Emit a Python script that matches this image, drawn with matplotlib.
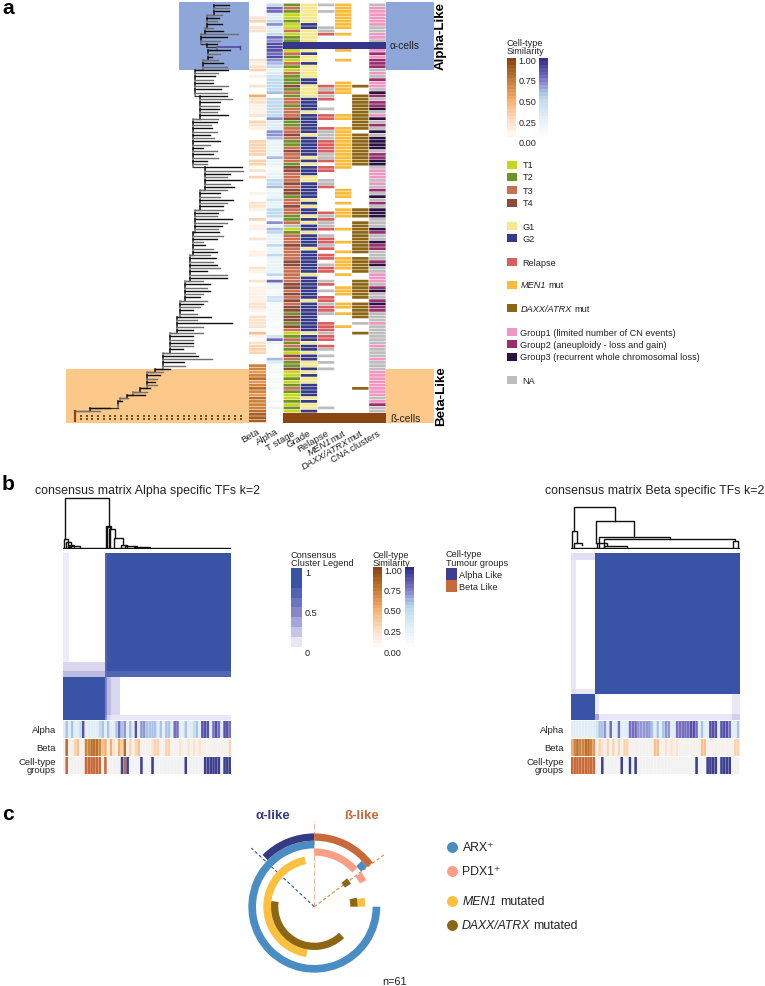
import numpy as np
import matplotlib
matplotlib.use("Agg")
import matplotlib.pyplot as plt
from matplotlib.colors import LinearSegmentedColormap
from matplotlib.patches import Rectangle

plt.rcParams['font.family'] = ['Liberation Sans', 'DejaVu Sans']

W, H = 765, 987

# ---------- panel a: annotation columns, one char per tumour row ----------
beta_col = ("0000230220" "0000000212" "3010020052" "2111203210" "0033333033" "0203000010" "0221003011"
            "0020001100" "0210020111" "1122102222" "0410233300" "0776786787" "687778" "999")
alpha_col = ("5883357335" "8799989765" "2345555605" "5555573337" "7622222622" "1122556122" "4225551726"
             "5222522522" "2225182211" "4411111101" "0048200006" "3111011010" "001020" "000")
tstage_col = ("2321121131" "22AA132132" "1322242323" "3233342233" "4322343332" "4433343442" "33433223N1"
              "2333433334" "4333334434" "3434424424" "3123232143" "2241121232" "112121" "BBB")
grade_col = ("YYYYYYDDYY" "YYAAYDYYDY" "YYYDDYYYYD" "DDDYDDDDDD" "YDDDDDDYDY" "DDDYYDDDDD" "YDYDDYDYDD"
             "YDDDDYDDDD" "DDDYDDDDDD" "DYDDDDDDDD" "DYDDYDDYDD" "YYDYDYYDDD" "DYDYYD" "BBB")
relapse_col = ("N0N0000NNR" "00AA000000" "00000RNRNR" "00N0RR00RN" "NNRRRRNNR0" "RR00NNR000" "0000RNRNNR"
               "0NRRNR0RR0" "NRR00NR0N0" "RRNRRN00RR" "RNRR0RN0N0" "N0N0000000" "0000N0" "BBB")
men1_col = ("MMMMMMMM0M" "00AAM00M00" "0000MMMM00" "0000MM00MM" "MMMMMMMMMM" "M000000MMM" "0M0MMM000M"
            "000M00M0MM" "MM0M000MMM" "00MM0M000M" "0000000000" "0000000000" "000000" "BBB")
daxx_col = ("0000000000" "00AA000000" "00000D00DD" "DDDDDDDDD0" "DDDDDDDDDD" "0000000000" "000DDD0DDD"
            "DDDDDDD0DD" "DDD00DDDDD" "D0DDDDD0N0" "0D00000000" "00000000D0" "000000" "BBB")
cna_col = ("NGGGGGGNNG" "GNAAGHGHHH" "NGNHGGNKHN" "HHKNGKNHNK" "NKKKKNHHKK" "NGGGNGNHNK" "NHNKKKNNNK"
           "HNNKHHNNNH" "KNNGGGNHKN" "NHKHHNNNGN" "NNNNNGNNNG" "NNNGGGGGGG" "GNGHNN" "BBB")
column_labels = ["Beta", "Alpha", "T stage", "Grade", "Relapse", "MEN1", "DAXX/ATRX", "CNA clusters"]

# tree: tip and branching depth of every leaf row
tree_tip = [229,229,229,222,219,217,222,213,223,238, 227,220,217,240,230,220,212,218,223,227,
            228,218,215,213,213,228,221,227,227,232, 220,219,219,217,228,218,217,211,212,217,
            210,214,220,210,203,217,213,218,207,207, 242,243,230,227,242,230,234,227,220,220,
            233,227,223,223,218,217,232,227,222,218, 219,223,217,203,205,213,217,210,216,213,
            217,220,207,227,227,203,210,207,210,203, 200,207,203,200,193,197,211,197,232,203,
            193,203,193,193,193,193,183,195,198,212, 184,185,170,163,160,157,155,157,150,147,145,128,122,118,110,100]
tree_node = [214,214,214,207,207,207,207,205,205,201, 201,201,207,217,208,208,208,203,203,203,
             195,195,195,195,195,195,195,195,200,200, 200,200,200,200,200,193,193,193,193,193,
             193,193,193,193,193,193,193,193,193,193, 205,205,205,205,205,205,205,200,200,200,
             200,200,200,195,195,195,195,195,195,195, 193,193,193,193,193,193,193,190,190,190,
             190,190,190,190,190,185,185,185,185,185, 185,180,180,180,180,180,177,177,177,177,
             177,170,170,170,170,170,170,163,163,163, 163,163,155,147,147,147,147,147,140,133,127,120,118,118,90,75]

# ---------- panel b: consensus blocks (edges in sample-fraction units) ----------
left_x_edges = [0, .036, .254, .266, .286, .341, 1]
left_y_edges = [0, .653, .707, .747, .972, 1]
left_blocks = [[.08, 0, .85, .97, 1, 1],
               [.17, .17, .85, 1, 1, 1],
               [.30, .30, .80, .85, .85, .85],
               [1, 1, .60, .30, .17, 0],
               [1, 1, .50, .17, .10, .10]]
right_x_edges = [0, .034, .146, .166, .955, 1]
right_y_edges = [0, .044, .82, .85, .97, 1]
right_blocks = [[.14, .14, 1, 1, 1],
                [.10, 0, 1, 1, 1],
                [.14, .10, 1, 1, 1],
                [1, 1, .08, 0, .10],
                [1, 1, .40, .10, .20]]

left_alpha = "2525224822" "2224525225" "7562528266" "5555252552" "7722522452" "88827872887"
left_beta = "0811341177" "8887451521" "5381303411" "1123311330" "1121121212" "11010100113"
left_group = "0B000000BB" "BBBB0B0000" "0ABA0000A0" "00A0000000" "0000A00000" "0AAAAAA0AAA"
right_alpha = "2222222223" "5562722722" "2777666665" "2525662277" "7778872522" "88828887225"
right_beta = "5787788761" "3213131313" "3100110011" "4411212121" "1111111441" "10101100033"
right_group = "BBBBBBBBB0" "0A000000A0" "0A0A000000" "0000000000" "00000A000A" "AAA0AAAA000"

# dendrogram merges: x-left, x-right, height, left foot, right foot
left_dendro = [(195, 325, 88, 210, 170), (190, 203, 210, 238, 238), (196, 212, 220, 238, 238),
               (205, 220, 228, 238, 238), (210, 240, 232, 238, 238), (318, 332, 170, 238, 180),
               (320, 328, 175, 238, 238), (326, 345, 180, 238, 207), (340, 368, 207, 238, 228),
               (362, 380, 228, 238, 238), (375, 410, 232, 238, 238), (400, 450, 235, 238, 238),
               (187, 694, 238, 238, 238)]
right_dendro = [(522, 645, 115, 185, 155), (516, 530, 185, 236, 222), (522, 545, 222, 236, 228),
                (588, 702, 155, 222, 205), (595, 810, 205, 236, 210), (610, 1005, 210, 236, 215),
                (998, 1012, 215, 236, 236), (590, 620, 222, 236, 228), (612, 680, 230, 236, 236),
                (511, 1018, 236, 236, 236)]

# ---------- panel c: arcs in degrees clockwise from north ----------
arx_arcs = [(90, 360), (46, 53)]
pdx1_arcs = [(0, 48), (54, 63)]
men1_arcs = [(189, 349), (80, 90)]
daxx_arcs = [(136.5, 277.5), (49, 58), (78, 90)]
alpha_arc = (315, 360)
beta_arc = (0, 53)

# ---------- colours ----------
T_COL = {'1': '#C6D71C', '2': '#6E9427', '3': '#C96F52', '4': '#8B4A3A', 'N': '#BDBDBD'}
G_COL = {'Y': '#F5E88F', 'D': '#353B88'}
NAVY, BROWN = '#35358A', '#8B4513'
CAT = dict(T_COL); CAT.update(G_COL)
CAT2 = {'R': '#D95F5F', 'N': '#BDBDBD', 'M': '#F9BB3A', 'D': '#8D6614',
        'G': '#EF96C1', 'H': '#982E6E', 'K': '#2B1143'}
brown_cmap = LinearSegmentedColormap.from_list('b', [(0, '#FFFFFF'), (.25, '#FDDCC0'), (.5, '#F7AD6A'),
                                                     (.75, '#C47A32'), (1, '#8B4513')])
alpha_cmap = LinearSegmentedColormap.from_list('a', [(0, '#FFFFFF'), (.25, '#E4F1F7'), (.5, '#BEDCEE'),
                                                     (.6, '#A6BDE3'), (.75, '#7E78C7'), (1, '#332E8F')])
cons_cmap = LinearSegmentedColormap.from_list('c', [(0, '#FFFFFF'), (.1, '#E9E7F6'), (.5, '#8E8FCE'),
                                                    (1, '#3953A6')])

fig = plt.figure(figsize=(W / 100, H / 100), dpi=100, facecolor='white')


def ax_px(x0, y0, x1, y1, **kw):
    a = fig.add_axes([x0 / W, 1 - y1 / H, (x1 - x0) / W, (y1 - y0) / H], **kw)
    a.patch.set_alpha(0)
    return a


def unsnap(container):
    for p in container:
        p.set_snap(False)


ov = ax_px(0, 0, W, H)
ov.set_xlim(0, W); ov.set_ylim(H, 0); ov.axis('off')
ov.set_zorder(0)
for (x0, y0, x1, y1, c) in [(179, 3, 249, 71, '#8FA6D9'), (386, 3, 434, 71, '#8FA6D9'),
                            (66, 370, 249, 423.5, '#FDC98A'), (386, 370, 434, 423.5, '#FDC98A')]:
    ov.add_patch(Rectangle((x0, y0), x1 - x0, y1 - y0, color=c, lw=0))

txt = fig.add_axes([0, 0, 1, 1])
txt.set_xlim(0, W); txt.set_ylim(H, 0); txt.axis('off'); txt.patch.set_alpha(0)
txt.set_zorder(10)
renderer = fig.canvas.get_renderer()


def T(x, y, s, size=6.6, **kw):
    kw.setdefault('va', 'center')
    kw.setdefault('color', '#222222')
    return txt.text(x, y, s, fontsize=size, **kw)


def italic_plain(x, y, it, rest, size=6.6):
    t = T(x, y, it, size, style='italic')
    e = t.get_window_extent(renderer)
    T(x + e.width + size * .42, y, rest, size)


# --- tree
N = len(tree_tip)
tree = ax_px(66, 4.3, 249, 423.5)
tree.set_xlim(66, 249); tree.set_ylim(129, 0); tree.axis('off')
tree.set_zorder(2)
for r in range(N):
    col = '#111111' if r % 2 == 0 else '#707070'
    if r == 13:
        tree.plot([tree_node[r], tree_tip[r]], [r + .5, r + .5], color='#4A3FA0', lw=1.1)
        tree.plot([tree_tip[r]] * 2, [r, r + 1], color='#4A3FA0', lw=1.0)
    else:
        tree.plot([tree_node[r], tree_tip[r]], [r + .5, r + .5], color=col, lw=1.0)
    if r < N - 1:
        tree.plot([tree_node[r]] * 2, [r + .5, r + 1.5], color=col, lw=1.1)
        tree.plot([tree_node[r], tree_node[r + 1]], [r + 1.5, r + 1.5], color='#333333', lw=0.9)
tree.plot([75, 75], [125.5, 128.5], color=BROWN, lw=1.6)
for yy in (127, 128):
    tree.scatter(np.arange(81, 246, 5.7), [yy] * len(np.arange(81, 246, 5.7)), marker='s', s=1.6,
                 color='#7A4A28', lw=0)

# --- annotation heatmap
hm = ax_px(249, 4.3, 386, 423.5, facecolor='white')
hm.patch.set_alpha(1)
hm.set_xlim(0, 8); hm.set_ylim(129, 0); hm.axis('off')
hm.set_zorder(1)
rows = np.arange(len(beta_col)) + .5
unsnap(hm.barh(rows, 1, left=0, height=.84,
        color=[brown_cmap(int(c) / 10) if c != '0' else (1, 1, 1, 0) for c in beta_col[:-3]] + [brown_cmap(.88)] * 3))
unsnap(hm.barh(rows, .94, left=1.03, height=.84,
        color=[alpha_cmap(int(c) / 10) if c != '0' else (1, 1, 1, 0) for c in alpha_col]))
for i, (col, pal) in enumerate([(tstage_col, CAT), (grade_col, CAT), (relapse_col, CAT2), (men1_col, CAT2),
                                (daxx_col, CAT2), (cna_col, CAT2)]):
    cols = [pal.get(c, (1, 1, 1, 0)) if c not in 'AB' else (1, 1, 1, 0) for c in col]
    unsnap(hm.barh(rows, .96, left=2 + i + .02, height=.84, color=cols))
hm.add_patch(Rectangle((2, 12), 6, 2, color=NAVY, lw=0))
hm.add_patch(Rectangle((2, 126), 6, 3, color=BROWN, lw=0))

T(390, 46, "α-cells", 7.4)
T(390, 419, "ß-cells", 7.4)
T(441, 36, "Alpha-Like", 9.6, weight='bold', rotation=90, ha='center', color='black')
T(441, 396, "Beta-Like", 9.6, weight='bold', rotation=90, ha='center', color='black')
T(2, 8, "a", 15, weight='bold', color='black')
T(2, 484, "b", 15, weight='bold', color='black')
T(2, 814, "c", 15, weight='bold', color='black')

ends = [(257, 427), (275, 427), (292, 429), (308, 429), (326, 429), (343, 429), (360, 429), (377, 429)]
ang = np.deg2rad(30)
for lab, (x, y) in zip(column_labels, ends):
    if lab in ("MEN1", "DAXX/ATRX"):
        t = T(x, y, "mut", 6.8, rotation=30, ha='right', va='top', rotation_mode='anchor')
        t2 = T(0, 0, "mut", 6.8); w = t2.get_window_extent(renderer).width; t2.remove()
        T(x - w * np.cos(ang), y + w * np.sin(ang), lab, 6.8, style='italic', rotation=30, ha='right', va='top',
          rotation_mode='anchor')
    else:
        T(x, y, lab, 6.8, rotation=30, ha='right', va='top', rotation_mode='anchor')


# --- colour bars
def cbar(x0, y0, x1, y1, cmap, levels=24):
    a = ax_px(x0, y0, x1, y1)
    a.imshow(np.linspace(1, 0, levels)[:, None], cmap=cmap, vmin=0, vmax=1, aspect='auto')
    a.axis('off')
    return a


def sim_legend(x, ytitle, bar_top, bar_bot, alpha_x, ylabels):
    T(x, ytitle, "Cell-type", 6.6)
    T(x, ytitle + 8.5, "Similarity", 6.6)
    cbar(x, bar_top, x + 9, bar_bot, brown_cmap)
    cbar(alpha_x, bar_top, alpha_x + 9, bar_bot, alpha_cmap)
    for lab, yy in zip(["1.00", "0.75", "0.50", "0.25", "0.00"], ylabels):
        T(x + 11.5, yy, lab, 6.6)


sim_legend(507, 43.5, 59, 141, 539, [62, 82, 102.5, 123.5, 143])
sim_legend(372.5, 555, 568, 651, 405, [571, 591.5, 612, 632.5, 653])

legend_items = [(166, "T1", '#C6D71C'), (178, "T2", '#6E9427'), (191, "T3", '#C96F52'), (204, "T4", '#8B4A3A'),
                (227, "G1", '#F5E88F'), (239, "G2", '#353B88'), (263, "Relapse", '#D95F5F'),
                (286, None, '#F9BB3A'), (309, None, '#8D6614'),
                (333, "Group1 (limited number of CN events)", '#EF96C1'),
                (345, "Group2 (aneuploidy - loss and gain)", '#982E6E'),
                (358, "Group3 (recurrent whole chromosomal loss)", '#2B1143'),
                (381, "NA", '#BDBDBD')]
for y, lab, c in legend_items:
    txt.add_patch(Rectangle((507.5, y - 4.5), 9.5, 8.5, color=c, lw=0))
    if lab:
        T(522.5 if len(lab) < 8 else 520.5, y, lab)
italic_plain(520.5, 286, "MEN1", "mut")
italic_plain(520.5, 309, "DAXX/ATRX", "mut")

# --- consensus legend + tumour groups
T(291, 555, "Consensus", 6.6)
T(291, 563.5, "Cluster Legend", 6.6)
a = ax_px(291, 569, 302, 648)
a.imshow(np.array([1, 1, .85, .7, .55, .4, .25, .1])[:, None], cmap=cons_cmap, vmin=0, vmax=1, aspect='auto')
a.axis('off')
T(305, 574, "1"); T(305, 613.5, "0.5"); T(305, 653, "0")
T(446, 554.5, "Cell-type", 6.6)
T(446, 563, "Tumour groups", 6.6)
txt.add_patch(Rectangle((446, 569), 11.5, 11.5, color='#3D3F8F', lw=0))
txt.add_patch(Rectangle((446, 581), 11.5, 11.5, color='#C8693A', lw=0))
T(459, 575.5, "Alpha Like"); T(459, 587, "Beta Like")


# --- consensus panels
def strip(x0, y0, x1, y1, s, kind):
    a = ax_px(x0, y0, x1, y1)
    if kind == 'alpha':
        cols = [alpha_cmap(int(c) / 10 + .08) for c in s]
    elif kind == 'beta':
        cols = [brown_cmap(int(c) / 10) if int(c) > 1 else '#F4F1EE' for c in s]
    else:
        cols = [{'A': '#3D3F8F', 'B': '#C8693A'}.get(c, '#F2F2F2') for c in s]
    unsnap(a.bar(np.arange(len(s)), 1, width=.94, color=cols, lw=0))
    a.set_xlim(-.5, len(s) - .5); a.set_ylim(0, 1); a.axis('off')


def dendro(x0, x1, merges, zx0, zx1, zy0, zy1, y0, y1):
    a = ax_px(x0, y0, x1, y1)
    a.set_xlim(zx0, zx1); a.set_ylim(zy1, zy0); a.axis('off')
    for (l, r, h, fl, fr) in merges:
        a.plot([l, l, r, r], [fl, h, h, fr], color='#111111', lw=1.0, solid_joinstyle='miter')


def consensus(x0, x1, y0, y1, xe, ye, vals, al, be, gr, title, tx):
    a = ax_px(x0, y0, x1, y1)
    a.pcolormesh(xe, ye, np.array(vals), cmap=cons_cmap, vmin=0, vmax=1, rasterized=True)
    a.set_xlim(0, 1); a.set_ylim(1, 0); a.axis('off')
    strip(x0, y1 + 1.5, x1, y1 + 18.5, al, 'alpha')
    strip(x0, y1 + 19.5, x1, y1 + 36.5, be, 'beta')
    strip(x0, y1 + 37.5, x1, y1 + 54.5, gr, 'group')
    T(x0 - 6.5, y1 + 10, "Alpha", 6.8, ha='right')
    T(x0 - 6.5, y1 + 28, "Beta", 6.8, ha='right')
    T(x0 - 6.5, y1 + 42, "Cell-type", 6.8, ha='right')
    T(x0 - 6.5, y1 + 50, "groups", 6.8, ha='right')
    T(tx, 491, title, 8.95)


consensus(62.5, 231.5, 553.5, 720.5, left_x_edges, left_y_edges, left_blocks, left_alpha, left_beta, left_group,
          "consensus matrix Alpha specific TFs k=2", 35)
consensus(570.5, 739.5, 553.5, 720.5, right_x_edges, right_y_edges, right_blocks, right_alpha, right_beta,
          right_group, "consensus matrix Beta specific TFs k=2", 545)
dendro(62.5, 231.5, left_dendro, 187, 694, 80, 240, 470 + 80 / 3, 470 + 240 / 3)
dendro(570.5, 739.5, right_dendro, 511, 1018, 80, 240, 470 + 80 / 3, 470 + 240 / 3)

# --- panel c
pol = fig.add_axes([(314.3 - 90) / W, 1 - (907.7 + 90) / H, 180 / W, 180 / H], projection='polar')
pol.set_theta_zero_location('N'); pol.set_theta_direction(-1)
pol.set_rlim(0, 90); pol.axis('off'); pol.patch.set_alpha(0)
pol.set_zorder(3)


def arcs(spans, r0, r1, color):
    for s, e in spans:
        th0, th1 = np.deg2rad(s), np.deg2rad(e)
        pol.bar((th0 + th1) / 2, r1 - r0, width=th1 - th0, bottom=r0, color=color, lw=0)


for th, r, c, ls in [(0, 86, '#F5B8A0', (0, (5, 2))), (313, 86, '#35559A', (0, (3, 2))),
                     (53.3, 88, '#E08A3A', (0, (3, 2)))]:
    pol.plot([np.deg2rad(th)] * 2, [0, r], color=c, lw=0.8, ls=ls, zorder=1)
arcs(arx_arcs, 58.3, 66, '#4A8DC4')
arcs(pdx1_arcs, 51, 58.3, '#FB9E85')
arcs(men1_arcs, 43.3, 51, '#FBC03D')
arcs(daxx_arcs, 36, 43.3, '#8D6614')
arcs([alpha_arc], 66, 73.3, '#353A85')
arcs([beta_arc], 66, 73.3, '#C8693A')

T(272.5, 816, "α-like", 9.5, weight='bold', color='#353A85', ha='center')
T(362, 816, "ß-like", 9.5, weight='bold', color='#C8693A', ha='center')
for y, c in [(848, '#4A8DC4'), (871.7, '#FB9E85'), (902, '#FBC03D'), (925.7, '#8D6614')]:
    txt.scatter([452], [y], s=62, color=c, lw=0)
T(462.5, 848, "ARX⁺", 8.8)
T(462.5, 871.7, "PDX1⁺", 8.8)
italic_plain(462.5, 902, "MEN1", "mutated", 8.8)
italic_plain(461.5, 925.7, "DAXX/ATRX", "mutated", 8.8)
T(395, 982, "n=61", 7.8, ha='center')

fig.savefig("out.png", dpi=100)
